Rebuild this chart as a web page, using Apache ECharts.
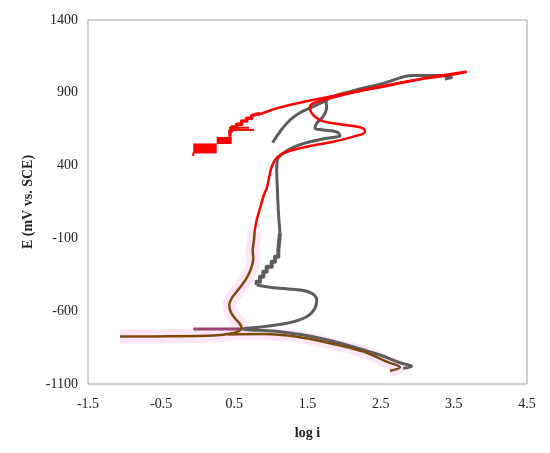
<!DOCTYPE html>
<html>
<head>
<meta charset="utf-8">
<style>
  html, body { margin: 0; padding: 0; background: #fff; }
  #chart { width: 550px; height: 453px; }
</style>
<script src="https://cdn.jsdelivr.net/npm/echarts@6/dist/echarts.min.js"></script>
</head>
<body>
<div id="chart"></div>
<script>
// axis ticks
const xTicks = [-1.5, -0.5, 0.5, 1.5, 2.5, 3.5, 4.5];
const yTicks = [-1100, -600, -100, 400, 900, 1400];

// grey curve: cathodic branch, Ecorr and the loop below the passive region
const greyLower = [
  [2.809, -992], [2.924, -978], [2.764, -954], [2.491, -901], [2.035, -832],
  [1.579, -776], [1.124, -741], [0.623, -722], [0.896, -706], [1.216, -683],
  [1.489, -638], [1.602, -580], [1.626, -523], [1.557, -477], [1.397, -454],
  [1.124, -443], [0.942, -432], [0.806, -420]
];
// grey stepped part of the passive region
const greyStairs = [
  [0.806, -420], [0.806, -397], [0.851, -397],
  [0.851, -363], [0.896, -363], [0.896, -329], [0.942, -329], [0.942, -294],
  [1.011, -294], [1.011, -260], [1.056, -260], [1.056, -226], [1.101, -226],
  [1.101, -180], [1.124, -180], [1.124, -65]
];
// grey passive region top, breakdown loop and high-potential end
const greyUpper = [
  [1.124, -65], [1.101, 95], [1.087, 255],
  [1.079, 370], [1.087, 438], [1.169, 485], [1.306, 526], [1.534, 564],
  [1.762, 588], [1.944, 607], [1.899, 631], [1.716, 645], [1.602, 656],
  [1.626, 691], [1.694, 725], [1.739, 759], [1.762, 805], [1.753, 839],
  [1.784, 862], [2.081, 908], [2.536, 965], [2.946, 1019], [3.311, 1019],
  [3.471, 1005], [3.379, 995]
];
const greySpur = [
  [1.024, 557], [1.124, 633], [1.261, 713], [1.397, 763], [1.579, 805], [1.784, 855]
];
const greyFlat = [[-0.061, -722], [0.600, -722]];

// brown curve: flat start, Ecorr, lower anodic part
const brownMain = [
  [-1.063, -774], [-0.379, -772], [0.212, -767], [0.413, -757], [0.554, -738],
  [0.601, -719], [0.577, -688], [0.509, -649], [0.450, -603], [0.431, -557],
  [0.464, -511], [0.532, -466], [0.622, -408], [0.691, -351], [0.737, -294],
  [0.759, -237], [0.751, -180], [0.769, -111], [0.776, -56]
];
const brownCathodic = [
  [0.413, -760], [0.896, -757], [1.352, -775], [1.807, -820], [2.262, -878],
  [2.582, -947], [2.764, -985], [2.627, -1009]
];

// red curve: forward scan up to the top end
const redForward = [
  [0.776, -56], [0.806, 26], [0.851, 107], [0.896, 186], [0.942, 244],
  [0.964, 289], [0.987, 347], [1.011, 392], [1.056, 438], [1.124, 473],
  [1.261, 502], [1.534, 535], [1.853, 564], [2.126, 599], [2.286, 633],
  [2.262, 656], [2.126, 672], [1.853, 691], [1.671, 713], [1.557, 759],
  [1.534, 805], [1.602, 832], [1.762, 855], [2.081, 897], [2.536, 942],
  [2.992, 988], [3.447, 1022], [3.675, 1045]
];
// red reverse scan back down
const redReturn = [
  [3.675, 1045], [3.219, 1011], [2.764, 969],
  [2.309, 924], [1.853, 878], [1.397, 832], [1.124, 800], [0.942, 770],
  [0.851, 754]
];
const redStairs = [
  [0.851, 754], [0.806, 754], [0.806, 743], [0.737, 743], [0.737, 725],
  [0.669, 725], [0.669, 706], [0.601, 706], [0.601, 684], [0.532, 684],
  [0.532, 665], [0.468, 665], [0.468, 640], [0.440, 640], [0.440, 599]
];
const redTick1 = [[0.427, 660], [0.701, 660]];
const redTick2 = [[0.427, 645], [0.769, 645]];
const redBlockA = [[0.259, 573], [0.464, 573]];
const redBlockB = [[-0.061, 518], [0.259, 518]];
const redTail = [[-0.061, 490], [-0.061, 466]];

const GREY = '#5c5c5c';
const RED = '#ff0000';
const BROWN = '#7d4a0c';
const HALO = '#fce6f8';

function line(data, color, width, smooth, z) {
  return {
    type: 'line',
    data: data,
    showSymbol: false,
    symbol: 'none',
    silent: true,
    smooth: smooth || false,
    lineStyle: { color: color, width: width, cap: 'butt', join: 'round' },
    z: z || 2
  };
}

const chart = echarts.init(document.getElementById('chart'));
const labelFont = { fontFamily: 'Liberation Serif', fontSize: 14, color: '#222' };

chart.setOption({
  animation: false,
  grid: {
    left: 88, right: 23, top: 20, bottom: 69,
    show: true, borderColor: '#a0a0a0', borderWidth: 1
  },
  xAxis: {
    type: 'value',
    min: xTicks[0], max: xTicks[xTicks.length - 1], interval: 1,
    axisLine: { show: false }, axisTick: { show: false }, splitLine: { show: false },
    axisLabel: Object.assign({ margin: 13, formatter: v => String(v) }, labelFont),
    name: 'log i', nameLocation: 'middle', nameGap: 42,
    nameTextStyle: { fontFamily: 'Liberation Serif', fontSize: 14, fontWeight: 'bold', color: '#222' }
  },
  yAxis: {
    type: 'value',
    min: yTicks[0], max: yTicks[yTicks.length - 1], interval: 500,
    axisLine: { show: false }, axisTick: { show: false }, splitLine: { show: false },
    axisLabel: Object.assign({ margin: 10, formatter: v => String(v) }, labelFont),
    name: 'E (mV vs. SCE)', nameLocation: 'middle', nameGap: 53,
    nameTextStyle: { fontFamily: 'Liberation Serif', fontSize: 14, fontWeight: 'bold', color: '#222' }
  },
  series: [
    // faint pink halo under the brown trace, as in the source figure
    line(brownMain, HALO, 14, 0.4, 1),
    line(brownCathodic, HALO, 12, 0.4, 1),
    line(greyLower, GREY, 3, 0.4),
    line(greyStairs, GREY, 4),
    line(greyUpper, GREY, 3, 0.4),
    line(greySpur, GREY, 3, 0.4),
    line(greyFlat, '#9c4470', 3),
    line(brownCathodic, BROWN, 2.5, 0.4),
    line(brownMain, BROWN, 2.5, 0.4),
    line(redForward, RED, 2.5, 0.4),
    line(redReturn, RED, 2.5, 0.3),
    line(redStairs, RED, 3.5),
    line(redTick1, RED, 2),
    line(redTick2, RED, 2),
    line(redBlockA, RED, 7),
    line(redBlockB, RED, 10),
    line(redTail, RED, 2)
  ]
});
</script>
</body>
</html>
